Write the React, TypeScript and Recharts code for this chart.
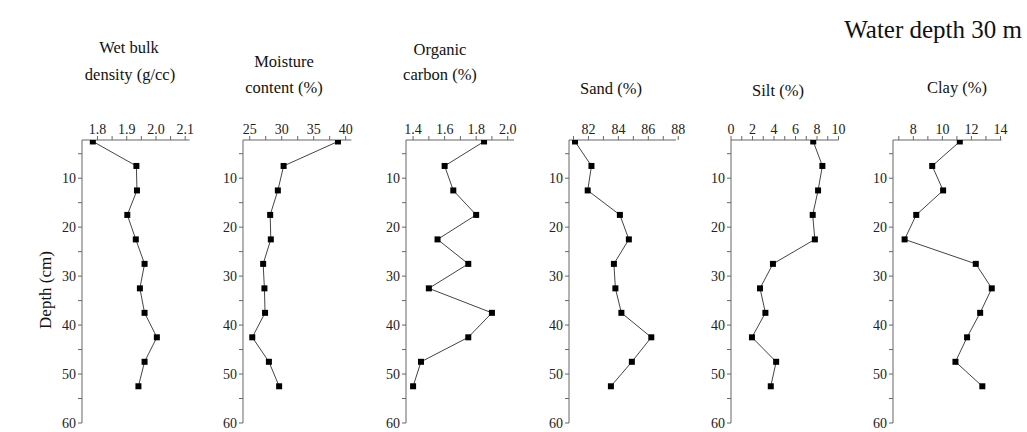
import { LineChart, Line, XAxis, YAxis } from 'recharts'

const SERIF = '"Liberation Serif", "Times New Roman", serif'

// depth of each sample (cm), mid-point of 5 cm slices
const DEPTHS = [2.5, 7.5, 12.5, 17.5, 22.5, 27.5, 32.5, 37.5, 42.5, 47.5, 52.5]

const BULK_DENSITY = [1.784, 1.933, 1.935, 1.902, 1.931, 1.961, 1.945, 1.961, 2.003, 1.961, 1.94]
const MOISTURE = [38.8, 30.3, 29.4, 28.2, 28.3, 27.1, 27.3, 27.4, 25.4, 28.0, 29.6]
const ORGANIC_CARBON = [1.85, 1.6, 1.655, 1.8, 1.555, 1.75, 1.5, 1.9, 1.75, 1.45, 1.4]
const SAND = [81.1, 82.2, 81.95, 84.1, 84.7, 83.7, 83.8, 84.2, 86.2, 84.9, 83.5]
const SILT = [7.65, 8.5, 8.1, 7.6, 7.8, 3.9, 2.7, 3.2, 1.95, 4.2, 3.7]
const CLAY = [11.2, 9.3, 10.05, 8.2, 7.4, 12.3, 13.4, 12.6, 11.7, 10.9, 12.75]

const DEPTH_TICKS = [5, 10, 15, 20, 25, 30, 35, 40, 45, 50, 55, 60]
const DEPTH_LABELS = [10, 20, 30, 40, 50, 60]

const BULK_TICKS = [1.8, 1.85, 1.9, 1.95, 2.0, 2.05, 2.1]
const BULK_LABELS = [1.8, 1.9, 2.0, 2.1]
const MOISTURE_TICKS = [25, 27.5, 30, 32.5, 35, 37.5, 40]
const MOISTURE_LABELS = [25, 30, 35, 40]
const ORGANIC_TICKS = [1.4, 1.5, 1.6, 1.7, 1.8, 1.9, 2.0]
const ORGANIC_LABELS = [1.4, 1.6, 1.8, 2.0]
const SAND_TICKS = [81, 82, 83, 84, 85, 86, 87, 88]
const SAND_LABELS = [82, 84, 86, 88]
const SILT_TICKS = [0, 1, 2, 3, 4, 5, 6, 7, 8, 9, 10]
const SILT_LABELS = [0, 2, 4, 6, 8, 10]
const CLAY_TICKS = [7, 8, 9, 10, 11, 12, 13, 14]
const CLAY_LABELS = [8, 10, 12, 14]

const labelIf = (labels: number[], digits: number) => (v: number) =>
  labels.some((l) => Math.abs(l - v) < 1e-6) ? v.toFixed(digits) : ''

interface PanelProps {
  values: number[]
  domain: [number, number]
  ticks: number[]
  labels: number[]
  digits: number
  axisX: number
  plotW: number
}

const Square = (props: any) => {
  const { cx, cy, index } = props
  if (cx == null || cy == null) return <g key={index} />
  return <rect key={index} x={cx - 3} y={cy - 3} width={6} height={6} fill="#000" />
}

function DepthPanel({ values, domain, ticks, labels, digits, axisX, plotW }: PanelProps) {
  const data = DEPTHS.map((depth, i) => ({ depth, value: values[i] }))
  const tickStyle = { fill: '#222', fontSize: 14, fontFamily: SERIF }
  return (
    <div style={{ position: 'absolute', left: axisX - 40, top: 110 }}>
      <LineChart
        layout="vertical"
        width={40 + plotW + 14}
        height={325}
        data={data}
        margin={{ top: 0, right: 14, bottom: 12, left: 0 }}
      >
        <XAxis
          type="number"
          dataKey="value"
          orientation="top"
          domain={domain}
          allowDataOverflow
          ticks={ticks}
          interval={0}
          height={30}
          tickSize={4}
          tickMargin={2}
          stroke="#666"
          tick={tickStyle}
          tickFormatter={labelIf(labels, digits)}
        />
        <YAxis
          type="number"
          dataKey="depth"
          domain={[2.2, 60]}
          allowDataOverflow
          ticks={DEPTH_TICKS}
          interval={0}
          width={40}
          tickSize={4}
          tickMargin={2}
          stroke="#666"
          tick={tickStyle}
          tickFormatter={labelIf(DEPTH_LABELS, 0)}
        />
        <Line
          dataKey="value"
          stroke="#444"
          strokeWidth={1}
          dot={Square}
          activeDot={false}
          isAnimationActive={false}
        />
      </LineChart>
    </div>
  )
}

const Title = ({ x, y, text, size = 16.5 }: { x: number; y: number; text: string; size?: number }) => (
  <div
    style={{
      position: 'absolute',
      left: x,
      top: y,
      transform: 'translate(-50%, -50%)',
      whiteSpace: 'nowrap',
      fontFamily: SERIF,
      fontSize: size,
      color: '#111',
      lineHeight: 1,
    }}
  >
    {text}
  </div>
)

export default function App() {
  return (
    <div
      style={{
        position: 'absolute',
        left: 0,
        top: 0,
        width: 1027,
        height: 432,
        background: '#fff',
        overflow: 'hidden',
      }}
    >
      <div
        style={{
          position: 'absolute',
          right: 5,
          top: 17,
          fontFamily: SERIF,
          fontSize: 25,
          color: '#111',
          whiteSpace: 'nowrap',
          lineHeight: 1,
        }}
      >
        Water depth 30 m
      </div>

      <Title x={129} y={48} text="Wet bulk" />
      <Title x={130} y={75} text="density (g/cc)" />
      <Title x={284} y={62} text="Moisture" />
      <Title x={284} y={88} text="content (%)" />
      <Title x={440} y={50} text="Organic" />
      <Title x={440} y={75} text="carbon (%)" />
      <Title x={611} y={89} text="Sand (%)" />
      <Title x={778} y={91} text="Silt (%)" />
      <Title x={957} y={88} text="Clay (%)" />

      <div
        style={{
          position: 'absolute',
          left: 45,
          top: 290,
          transform: 'translate(-50%, -50%) rotate(-90deg)',
          fontFamily: SERIF,
          fontSize: 17,
          color: '#111',
          whiteSpace: 'nowrap',
          lineHeight: 1,
        }}
      >
        Depth (cm)
      </div>

      <DepthPanel values={BULK_DENSITY} domain={[1.747, 2.115]} ticks={BULK_TICKS} labels={BULK_LABELS} digits={1} axisX={81.7} plotW={107.6} />
      <DepthPanel values={MOISTURE} domain={[23.95, 40.9]} ticks={MOISTURE_TICKS} labels={MOISTURE_LABELS} digits={0} axisX={243.3} plotW={108.4} />
      <DepthPanel values={ORGANIC_CARBON} domain={[1.355, 2.04]} ticks={ORGANIC_TICKS} labels={ORGANIC_LABELS} digits={1} axisX={405.7} plotW={108} />
      <DepthPanel values={SAND} domain={[80.7, 87.85]} ticks={SAND_TICKS} labels={SAND_LABELS} digits={0} axisX={569} plotW={107} />
      <DepthPanel values={SILT} domain={[0, 10]} ticks={SILT_TICKS} labels={SILT_LABELS} digits={0} axisX={731} plotW={107.5} />
      <DepthPanel values={CLAY} domain={[6.6, 14.07]} ticks={CLAY_TICKS} labels={CLAY_LABELS} digits={0} axisX={892.7} plotW={108.5} />
    </div>
  )
}
